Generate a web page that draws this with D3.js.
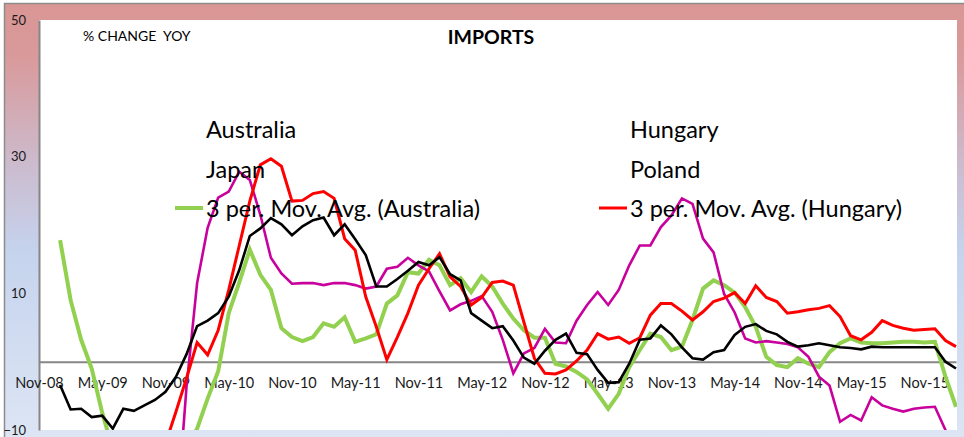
<!DOCTYPE html>
<html>
<head>
<meta charset="utf-8">
<script src="https://cdn.jsdelivr.net/npm/d3@7/dist/d3.min.js"></script>
<style>
  body { margin: 0; background: #fff; }
  svg { display: block; font-family: Lato, "Open Sans", sans-serif; }
</style>
</head>
<body>
<svg id="chart" width="964" height="437"></svg>
<script>
// categories: monthly, Nov-08 .. Feb-16
const months = d3.timeMonth.range(new Date(2008, 10, 1), new Date(2016, 2, 1));
const fmt = d3.timeFormat('%b-%y');
const categories = months.map(fmt);

const tickLabels = ['Nov-08', 'May-09', 'Nov-09', 'May-10', 'Nov-10', 'May-11', 'Nov-11',
  'May-12', 'Nov-12', 'May-13', 'Nov-13', 'May-14', 'Nov-14', 'May-15', 'Nov-15'];
const yTicks = [50, 30, 10, -10];

// 3 period moving averages (first two months empty)
const maAustralia = [null, null,
  17.8, 9.0, 3.2, -1.0, -7.5, -12.8, -15.5, -17.5, -18.5, -18.0, -16.5, -14.5, -12.5,
  -9.8, -5.4, -1.4, 7.1, 11.6, 16.4, 12.7, 10.5, 4.9, 3.6, 3.0, 3.6, 5.6, 5.1, 6.5,
  2.9, 3.4, 4.0, 8.5, 9.7, 13.1, 12.9, 14.9, 14.1, 11.2, 12.2, 10.2, 12.5, 11.0,
  8.5, 6.3, 4.6, 3.5, 3.5, -0.3, -0.7, -1.5, -2.6, -4.7, -6.9, -4.7, -0.8, 1.7,
  4.1, 3.6, 1.7, 2.2, 6.1, 10.7, 11.9, 11.2, 10.1, 8.0, 5.1, 0.7, -0.5, -0.8,
  0.5, -0.3, -0.8, 1.4, 2.7, 3.4, 2.8, 2.7, 2.7, 2.8, 2.9, 2.9, 2.8, 2.9, -2.2, -6.6];

const maJapan = [null, null,
  -27, -29, -31, -32, -32, -31, -30, -29, -28, -30, -28, -24, -3.6,
  11.5, 19.6, 24.0, 24.9, 27.8, 26.6, 21.5, 15.2, 12.9, 11.4, 11.5, 11.5, 11.2, 11.5, 11.5,
  11.2, 10.7, 11.0, 13.6, 13.9, 15.2, 14.1, 13.2, 10.3, 7.5, 8.4, 8.9, 9.6, 7.3,
  3.2, -1.7, 1.2, 2.0, 4.8, 2.8, 2.7, 6.0, 8.3, 10.2, 8.3, 10.5, 14.1, 17.0,
  17.0, 19.7, 21.4, 23.9, 23.1, 18.0, 16.0, 9.9, 7.2, 3.4, 2.8, 3.0, 2.8, 2.6,
  2.1, 0.7, -2.2, -3.5, -8.8, -7.8, -8.6, -5.2, -6.4, -6.9, -7.3, -6.9, -6.7, -6.6, -10.0, -13.5];

const maHungary = [null, null,
  -24, -26, -28, -29, -29, -28, -26, -23, -20, -16.5, -12.0, -7.3, -2.4,
  2.8, 1.0, 4.6, 10.5, 17.0, 23.5, 28.8, 29.7, 28.6, 23.5, 23.6, 24.6, 24.9, 23.9, 18.0,
  16.3, 9.5, 5.1, 0.3, 3.6, 7.1, 11.2, 13.6, 15.8, 12.4, 11.0, 8.3, 9.4, 11.6,
  11.8, 11.2, 5.8, 0.5, -1.7, -1.8, -1.2, 0.1, 1.7, 4.1, 3.3, 3.6, 2.7, 3.5,
  6.8, 8.5, 8.5, 7.4, 6.1, 7.3, 8.8, 9.3, 10.1, 8.5, 11.1, 9.4, 8.8, 7.1,
  7.3, 7.6, 7.8, 8.2, 6.6, 3.8, 3.2, 4.3, 6.0, 5.3, 4.9, 4.6, 4.7, 4.8, 3.1, 2.2];

const maPoland = [null, null,
  -3.4, -7.0, -6.9, -8.1, -7.9, -9.8, -6.9, -7.2, -6.4, -5.6, -4.4, -2.2, 1.1,
  5.2, 6.0, 7.1, 9.5, 13.4, 18.4, 19.5, 21.0, 20.1, 18.5, 19.8, 20.7, 21.1, 18.5, 20.1,
  17.9, 15.6, 11.0, 11.0, 12.1, 13.3, 14.6, 14.1, 15.3, 12.8, 11.9, 7.1, 6.0, 4.9,
  5.2, 3.1, 0.6, -0.3, 1.6, 3.2, 4.1, 1.3, 1.1, -1.2, -3.1, -3.0, -0.3, 3.2,
  3.4, 5.3, 4.0, 2.1, 0.5, 0.3, 1.4, 1.7, 3.9, 5.1, 5.5, 4.5, 4.0, 2.9,
  2.2, 2.4, 2.7, 2.4, 2.1, 2.0, 1.8, 2.2, 2.1, 2.1, 2.1, 2.1, 2.1, 2.1, 0.0, -1.0];

const series = [
  { name: 'Australia', values: maAustralia, color: '#92d050', width: 4 },
  { name: 'Japan', values: maJapan, color: '#c8009c', width: 2.6 },
  { name: 'Hungary', values: maHungary, color: '#ff0000', width: 3 },
  { name: 'Poland', values: maPoland, color: '#000000', width: 2.6 }
];

const svg = d3.select('#chart');
const plot = { left: 39, right: 956, top: 20, bottom: 430 };

// frame with gradient background
const defs = svg.append('defs');
const grad = defs.append('linearGradient')
  .attr('id', 'bg').attr('x1', 0).attr('y1', 0).attr('x2', 0).attr('y2', 1);
grad.append('stop').attr('offset', '0%').attr('stop-color', '#d99694');
grad.append('stop').attr('offset', '12%').attr('stop-color', '#d99a9b');
grad.append('stop').attr('offset', '38%').attr('stop-color', '#cbbed2');
grad.append('stop').attr('offset', '55%').attr('stop-color', '#c5d3ed');
grad.append('stop').attr('offset', '100%').attr('stop-color', '#dfe7f5');

svg.append('rect')
  .attr('x', 4.5).attr('y', 3.5)
  .attr('width', 980).attr('height', 450)
  .attr('fill', 'url(#bg)')
  .attr('stroke', '#8c8c8c').attr('stroke-width', 1.5);

svg.append('rect')
  .attr('x', plot.left).attr('y', plot.top)
  .attr('width', plot.right - plot.left + 1).attr('height', plot.bottom - plot.top)
  .attr('fill', '#fff');

defs.append('clipPath').attr('id', 'clip')
  .append('rect')
  .attr('x', plot.left).attr('y', plot.top)
  .attr('width', plot.right - plot.left + 1).attr('height', plot.bottom - plot.top);

const x = d3.scalePoint().domain(categories).range([plot.left, plot.right]);
const y = d3.scaleLinear().domain([-10, 50]).range([plot.bottom, plot.top]);

// y axis
const yAxis = svg.append('g')
  .attr('transform', `translate(${plot.left},0)`)
  .call(d3.axisLeft(y).tickValues(yTicks).tickSize(0).tickPadding(13));
yAxis.select('.domain').attr('stroke', '#868686').attr('stroke-width', 2);
yAxis.selectAll('text').attr('font-size', 13).attr('fill', '#1a1a1a').attr('font-family', 'Lato');

// category axis crossing at zero
const xAxis = svg.append('g')
  .attr('transform', `translate(0,${y(0)})`)
  .call(d3.axisBottom(x).tickValues(tickLabels).tickSize(0).tickPadding(16));
xAxis.select('.domain').attr('stroke', '#868686').attr('stroke-width', 2);
xAxis.selectAll('text').attr('font-size', 14.5).attr('fill', '#1a1a1a').attr('font-family', 'Lato');

// lines
const line = d3.line()
  .defined(d => d.v !== null)
  .x(d => x(d.c))
  .y(d => y(d.v));

const lines = svg.append('g').attr('clip-path', 'url(#clip)');
series.forEach(s => {
  lines.append('path')
    .datum(s.values.map((v, i) => ({ c: categories[i], v })))
    .attr('fill', 'none')
    .attr('stroke', s.color)
    .attr('stroke-width', s.width)
    .attr('stroke-linejoin', 'miter')
    .attr('d', line);
});

// texts
svg.append('text')
  .attr('x', 83).attr('y', 41)
  .attr('font-size', 14)
  .style('white-space', 'pre')
  .text('% CHANGE  YOY');

svg.append('text')
  .attr('x', 491).attr('y', 44)
  .attr('text-anchor', 'middle')
  .attr('font-size', 19.5).attr('font-weight', 'bold')
  .text('IMPORTS');

// legend
const legendCols = [
  { x: 206, rows: ['Australia', 'Japan', '3 per. Mov. Avg. (Australia)'], color: '#92d050', w: 4 },
  { x: 630, rows: ['Hungary', 'Poland', '3 per. Mov. Avg. (Hungary)'], color: '#ff0000', w: 3 }
];
const legend = svg.append('g');
legendCols.forEach(col => {
  col.rows.forEach((r, i) => {
    legend.append('text')
      .attr('x', col.x).attr('y', 138 + i * 39.5)
      .attr('font-size', 23.5)
      .attr('fill', '#000')
      .text(r);
  });
  legend.append('line')
    .attr('x1', col.x - 31).attr('x2', col.x - 3)
    .attr('y1', 208).attr('y2', 208)
    .attr('stroke', col.color).attr('stroke-width', col.w);
});
</script>
</body>
</html>
